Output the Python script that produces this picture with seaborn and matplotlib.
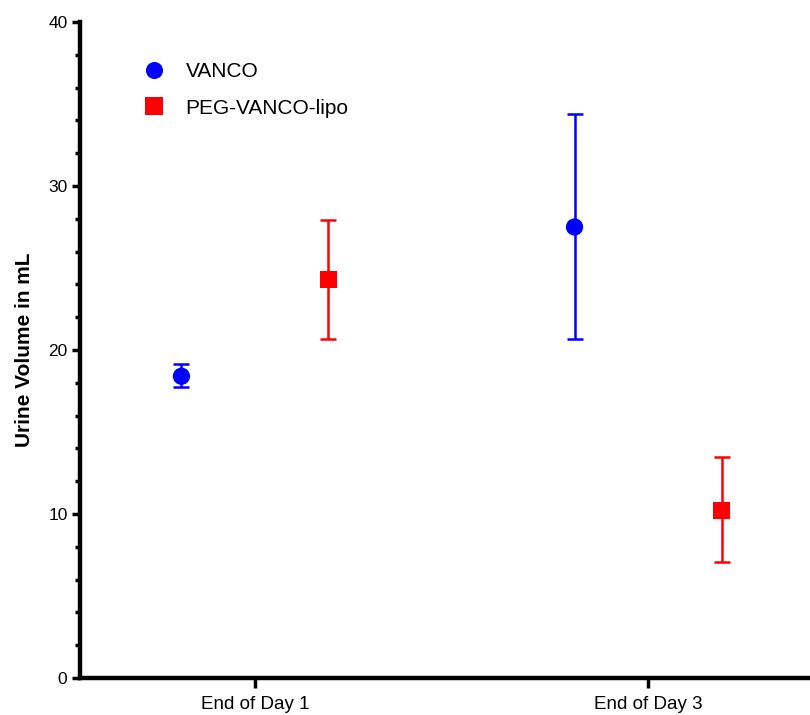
import numpy as np
import pandas as pd
import matplotlib
matplotlib.use("Agg")
import matplotlib.pyplot as plt
import seaborn as sns
from matplotlib.ticker import MultipleLocator

days = ["End of Day 1", "End of Day 3"]
groups = ["VANCO", "PEG-VANCO-lipo"]
vanco_mean = [18.4, 27.5]
vanco_lo = [17.75, 20.65]
vanco_hi = [19.15, 34.4]
peg_mean = [24.3, 10.2]
peg_lo = [20.7, 7.05]
peg_hi = [27.95, 13.45]
colors = ["#0000FF", "#FF0000"]
markers = ["o", "s"]
yticks = [0, 10, 20, 30, 40]

sns.set_style("ticks")
plt.rcParams["font.family"] = ["Liberation Sans", "DejaVu Sans"]
plt.rcParams["text.color"] = "black"
plt.rcParams["axes.labelcolor"] = "black"
plt.rcParams["xtick.color"] = "black"
plt.rcParams["ytick.color"] = "black"

rows = []
for g, (m, lo, hi) in zip(groups, [(vanco_mean, vanco_lo, vanco_hi), (peg_mean, peg_lo, peg_hi)]):
    for i, d in enumerate(days):
        rows.append({"day": d, "idx": i, "group": g, "mean": m[i], "lo": lo[i], "hi": hi[i]})
df = pd.DataFrame(rows)
dodge = {"VANCO": -0.187, "PEG-VANCO-lipo": 0.187}
df["x"] = df["idx"] + df["group"].map(dodge)

fig = plt.figure(figsize=(8.1, 7.15), dpi=100)
ax = fig.add_axes([80/810, 37/715, 730/810, 656/715])

for g, c in zip(groups, colors):
    sub = df[df["group"] == g]
    ax.errorbar(sub["x"], sub["mean"],
                yerr=[sub["mean"] - sub["lo"], sub["hi"] - sub["mean"]],
                fmt="none", ecolor=c, elinewidth=1.8, capsize=6, capthick=1.8, zorder=2)

sns.scatterplot(data=df, x="x", y="mean", hue="group", style="group",
                palette=dict(zip(groups, colors)), markers=dict(zip(groups, markers)),
                hue_order=groups, style_order=groups,
                s=155, edgecolor="none", linewidth=0, ax=ax, zorder=3)

handles, labels = ax.get_legend_handles_labels()
for h in handles:
    try:
        h.set_markersize(12.3)
        h.set_markeredgewidth(0)
    except Exception:
        pass
leg = ax.legend(handles, labels, loc="upper left", bbox_to_anchor=(144/810, 1 - 62/715),
                bbox_transform=fig.transFigure, frameon=False, fontsize=15,
                borderpad=0, handlelength=1.0, handletextpad=1.0, labelspacing=0.85,
                borderaxespad=0)
for t in leg.get_texts():
    t.set_color("black")

ax.set_xlim(-0.445, 1.412)
ax.set_ylim(0, 40)
ax.set_xticks(range(len(days)))
ax.set_xticklabels(days, fontsize=13.5)
ax.set_yticks(yticks)
ax.set_yticklabels([str(t) for t in yticks], fontsize=12.5)
ax.yaxis.set_minor_locator(MultipleLocator(2))
ax.set_xlabel("")
ax.set_ylabel("Urine Volume in mL", fontsize=15, fontweight="bold", labelpad=10, color="black")

for s in ["top", "right"]:
    ax.spines[s].set_visible(False)
for s in ["left", "bottom"]:
    ax.spines[s].set_linewidth(3.2)
    ax.spines[s].set_color("black")
ax.tick_params(axis="y", which="major", length=6, width=2.5, pad=3)
ax.tick_params(axis="y", which="minor", length=3.5, width=2.5)
ax.tick_params(axis="x", which="major", length=7, width=2.5, pad=6)

fig.savefig("out.png", dpi=100)
